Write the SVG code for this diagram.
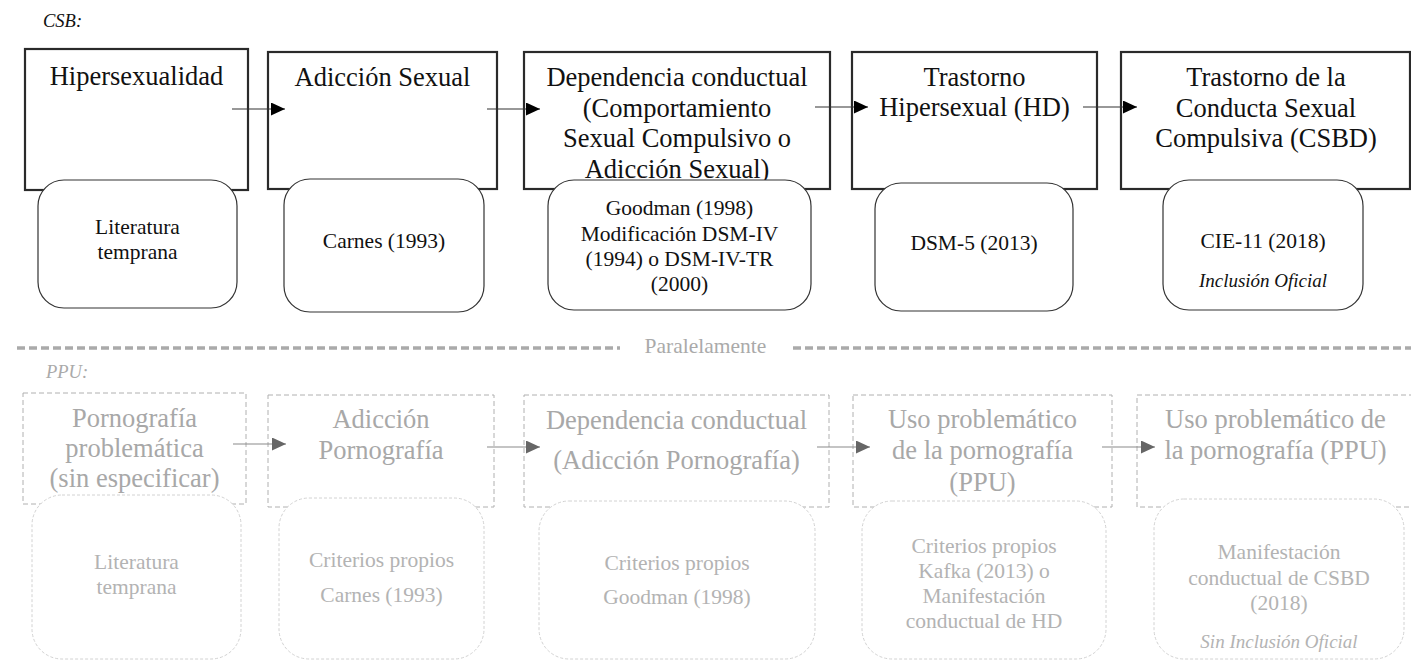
<svg xmlns="http://www.w3.org/2000/svg" width="1411" height="661" viewBox="0 0 1411 661" font-family="'Liberation Serif', 'DejaVu Serif', serif">
<style>
text{font-family:'Liberation Serif','DejaVu Serif',serif;text-anchor:middle}
.t{font-size:26.5px;fill:#111}
.s{font-size:21.5px;fill:#111}
.it{font-style:italic}
.bt{font-size:26.5px;fill:#a8a8a8}
.bs{font-size:21.5px;fill:#b3b3b3}
.box{fill:#fff;stroke:#2a2a2a;stroke-width:2.2}
.rbox{fill:#fff;stroke:#333;stroke-width:1.2}
.dbox{fill:none;stroke:#b0b0b0;stroke-width:1;stroke-dasharray:5 3}
.drbox{fill:#fff;stroke:#d2d2d2;stroke-width:1;stroke-dasharray:3 2}
.ca{stroke:#333;stroke-width:1.2;fill:none}
.cb{stroke:#8a8a8a;stroke-width:1.2;fill:none}
</style>
<defs>
<marker id="ah" markerUnits="userSpaceOnUse" markerWidth="15" markerHeight="14" refX="14" refY="6.5" orient="auto"><path d="M0,0 L14,6.5 L0,13 z" fill="#000"/></marker>
<marker id="ahg" markerUnits="userSpaceOnUse" markerWidth="15" markerHeight="14" refX="14" refY="6.5" orient="auto"><path d="M0,0 L14,6.5 L0,13 z" fill="#666"/></marker>
</defs>
<text x="43" y="27" class="it" style="font-size:18.5px;fill:#111;text-anchor:start">CSB:</text>
<g id="n1"><rect class="box" x="25" y="49" width="223" height="141"/><text class="t" x="136.5" y="85">Hipersexualidad</text></g>
<g id="n2"><rect class="box" x="268" y="52" width="229" height="137"/><text class="t" x="382.5" y="86">Adicción Sexual</text></g>
<g id="n3"><rect class="box" x="524" y="52" width="306" height="137"/><text class="t" x="677" y="86">Dependencia conductual</text><text class="t" x="677" y="116.5">(Comportamiento</text><text class="t" x="677" y="147">Sexual Compulsivo o</text><text class="t" x="677" y="177.5">Adicción Sexual)</text></g>
<g id="n4"><rect class="box" x="852" y="52" width="245" height="137"/><text class="t" x="974.5" y="86">Trastorno</text><text class="t" x="974.5" y="116">Hipersexual (HD)</text></g>
<g id="n5"><rect class="box" x="1121" y="52" width="289" height="137"/><text class="t" x="1266" y="86">Trastorno de la</text><text class="t" x="1266" y="116.5">Conducta Sexual</text><text class="t" x="1266" y="147">Compulsiva (CSBD)</text></g>
<g id="r1"><rect class="rbox" x="38" y="180" width="199" height="128" rx="26"/><text class="s" x="137.5" y="234">Literatura</text><text class="s" x="137.5" y="259">temprana</text></g>
<g id="r2"><rect class="rbox" x="284" y="179" width="200" height="133" rx="26"/><text class="s" x="384" y="248">Carnes (1993)</text></g>
<g id="r3"><rect class="rbox" x="548" y="180" width="263" height="130" rx="26"/><text class="s" x="679.5" y="215">Goodman (1998)</text><text class="s" x="679.5" y="240.5">Modificación DSM-IV</text><text class="s" x="679.5" y="266">(1994) o DSM-IV-TR</text><text class="s" x="679.5" y="291">(2000)</text></g>
<g id="r4"><rect class="rbox" x="875" y="183" width="198" height="128" rx="26"/><text class="s" x="974" y="250">DSM-5 (2013)</text></g>
<g id="r5"><rect class="rbox" x="1163" y="180" width="200" height="130" rx="26"/><text class="s" x="1263" y="248">CIE-11 (2018)</text><text class="it" x="1263" y="287" style="font-size:19px;fill:#111">Inclusión Oficial</text></g>
<g id="separator"><line x1="17" y1="348" x2="620" y2="348" stroke="#aaa" stroke-width="3.5" stroke-dasharray="8 4"/><line x1="793" y1="348" x2="1411" y2="348" stroke="#aaa" stroke-width="3.5" stroke-dasharray="8 4"/><text x="705.5" y="353" style="font-size:21.5px;fill:#aaa">Paralelamente</text></g>
<text x="46" y="378" class="it" style="font-size:18.5px;fill:#aaa;text-anchor:start">PPU:</text>
<g id="b1"><rect class="dbox" x="23" y="393" width="223" height="111"/><text class="bt" x="134.5" y="427">Pornografía</text><text class="bt" x="134.5" y="457">problemática</text><text class="bt" x="134.5" y="487">(sin especificar)</text></g>
<g id="b2"><rect class="dbox" x="268" y="395" width="226" height="112"/><text class="bt" x="381" y="428">Adicción</text><text class="bt" x="381" y="459">Pornografía</text></g>
<g id="b3"><rect class="dbox" x="524" y="395" width="305" height="112"/><text class="bt" x="676.5" y="429">Dependencia conductual</text><text class="bt" x="676.5" y="469">(Adicción Pornografía)</text></g>
<g id="b4"><rect class="dbox" x="853" y="395" width="259" height="112"/><text class="bt" x="982.5" y="428">Uso problemático</text><text class="bt" x="982.5" y="459">de la pornografía</text><text class="bt" x="982.5" y="491">(PPU)</text></g>
<g id="b5"><rect class="dbox" x="1137" y="395" width="280" height="112"/><text class="bt" x="1275.5" y="428">Uso problemático de</text><text class="bt" x="1275.5" y="459">la pornografía (PPU)</text></g>
<g id="rb1"><rect class="drbox" x="32" y="495" width="209" height="164" rx="30"/><text class="bs" x="136.5" y="569">Literatura</text><text class="bs" x="136.5" y="594">temprana</text></g>
<g id="rb2"><rect class="drbox" x="279" y="498" width="205" height="161" rx="30"/><text class="bs" x="381.5" y="567">Criterios propios</text><text class="bs" x="381.5" y="602">Carnes (1993)</text></g>
<g id="rb3"><rect class="drbox" x="539" y="501" width="276" height="158" rx="30"/><text class="bs" x="677" y="570">Criterios propios</text><text class="bs" x="677" y="604">Goodman (1998)</text></g>
<g id="rb4"><rect class="drbox" x="862" y="501" width="244" height="158" rx="30"/><text class="bs" x="984" y="553">Criterios propios</text><text class="bs" x="984" y="578">Kafka (2013) o</text><text class="bs" x="984" y="603">Manifestación</text><text class="bs" x="984" y="628">conductual de HD</text></g>
<g id="rb5"><rect class="drbox" x="1154" y="499" width="250" height="160" rx="30"/><text class="bs" x="1279" y="559">Manifestación</text><text class="bs" x="1279" y="585">conductual de CSBD</text><text class="bs" x="1279" y="610">(2018)</text><text class="it" x="1279" y="648" style="font-size:19px;fill:#b3b3b3">Sin Inclusión Oficial</text></g>
<g id="connectors">
<line class="ca" x1="232" y1="109" x2="285" y2="109" marker-end="url(#ah)"/>
<line class="ca" x1="487" y1="109" x2="540" y2="109" marker-end="url(#ah)"/>
<line class="ca" x1="815" y1="107" x2="868" y2="107" marker-end="url(#ah)"/>
<line class="ca" x1="1083" y1="107" x2="1137" y2="107" marker-end="url(#ah)"/>
<line class="cb" x1="233" y1="444" x2="286" y2="444" marker-end="url(#ahg)"/>
<line class="cb" x1="487" y1="447" x2="540" y2="447" marker-end="url(#ahg)"/>
<line class="cb" x1="817" y1="447" x2="870" y2="447" marker-end="url(#ahg)"/>
<line class="cb" x1="1102" y1="447" x2="1155" y2="447" marker-end="url(#ahg)"/>
</g>
</svg>
